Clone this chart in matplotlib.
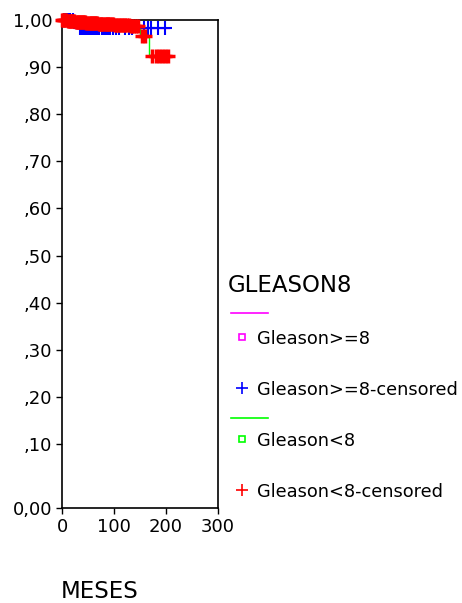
import numpy as np
import matplotlib
matplotlib.use("Agg")
import matplotlib.pyplot as plt
from matplotlib.lines import Line2D

plt.rcParams['font.family'] = ['DejaVu Sans']

# Kaplan-Meier step data (time in months, cumulative survival)
hi_event_t = [0, 27, 205]
hi_event_s = [1.0, 0.982, 0.982]
hi_cens_t = [3, 8, 12, 16, 22, 34, 38, 41, 44, 47, 50, 53, 56, 60, 64, 68, 72,
             76, 80, 84, 88, 93, 98, 104, 110, 122, 128, 134, 158, 165, 172,
             184, 199]

lo_event_t = [0, 10, 25, 45, 70, 100, 130, 150, 168, 205]
lo_event_s = [1.0, 0.998, 0.996, 0.994, 0.992, 0.990, 0.988, 0.965, 0.924, 0.924]
lo_cens_t = [0, 2, 4, 6, 8, 11, 13, 15, 17, 19, 21, 23, 26, 28, 30, 32, 34, 36,
             38, 40, 42, 44, 47, 49, 51, 53, 55, 57, 60, 62, 64, 66, 68, 71, 73,
             75, 77, 79, 82, 84, 86, 88, 91, 93, 96, 98, 101, 104, 107, 110,
             113, 116, 119, 122, 125, 128, 132, 135, 138, 142, 146, 153, 160,
             173, 180, 187, 193, 199, 204]

y_ticks = [0.1, 0.2, 0.3, 0.4, 0.5, 0.6, 0.7, 0.8, 0.9, 1.0]
y_labels = [',10', ',20', ',30', ',40', ',50', ',60', ',70', ',80', ',90', '1,00']
x_ticks = [0, 100, 200, 300]

W, H = 462, 603
fig = plt.figure(figsize=(W / 100, H / 100), dpi=100)
ax = fig.add_axes([62 / W, 1 - 508 / H, 156 / W, 488 / H])

ymin = -0.036


def level(ts, ss, t):
    i = np.searchsorted(ts, t, side='right') - 1
    return np.asarray(ss)[i]


# survival curves
ax.step(hi_event_t, hi_event_s, where='post', color='#ff00ff', lw=1, zorder=2)
ax.step(lo_event_t, lo_event_s, where='post', color='#00ff00', lw=1, zorder=2)

# censored observations
ax.plot(hi_cens_t, level(hi_event_t, hi_event_s, np.array(hi_cens_t)), ls='none',
        marker='+', ms=10, mew=1.5, color='#0000ff', zorder=3, clip_on=False)
ax.plot(lo_cens_t, level(lo_event_t, lo_event_s, np.array(lo_cens_t)), ls='none',
        marker='+', ms=10, mew=2.5, color='#ff0000', zorder=4, clip_on=False)

ax.set_xlim(0, 300)
ax.set_ylim(ymin, 1.0)
ax.set_xticks(x_ticks)
ax.set_xticklabels([str(v) for v in x_ticks])
ax.set_yticks([ymin] + y_ticks)
ax.set_yticklabels(['0,00'] + y_labels)
ax.tick_params(axis='both', direction='out', length=4, width=1, labelsize=13,
               colors='black', pad=3)
for sp in ax.spines.values():
    sp.set_linewidth(1.2)
    sp.set_color('black')

fig.text(61 / W, 1 - 591 / H, 'MESES', fontsize=16.5, ha='left', va='center')


# legend drawn in pixel coordinates
def fx(x):
    return x / W


def fy(y):
    return 1 - y / H


fig.text(fx(228), fy(285), 'GLEASON8', fontsize=16.5, ha='left', va='center')
entries = [
    ('line', '#ff00ff', 313, None),
    ('s', '#ff00ff', 339, 'Gleason>=8'),
    ('+', '#0000ff', 390, 'Gleason>=8-censored'),
    ('line', '#00ff00', 418, None),
    ('s', '#00ff00', 441, 'Gleason<8'),
    ('+', '#ff0000', 492, 'Gleason<8-censored'),
]
for kind, col, y, label in entries:
    if kind == 'line':
        fig.add_artist(Line2D([fx(231), fx(268)], [fy(y), fy(y)], color=col, lw=1.2))
    elif kind == 's':
        fig.add_artist(Line2D([fx(242)], [fy(y - 2)], marker='s', ms=5, mfc='none',
                              mec=col, mew=1.2, ls='none'))
    else:
        fig.add_artist(Line2D([fx(242)], [fy(y - 2)], marker='+', ms=9, mew=1.2,
                              color=col, ls='none'))
    if label:
        fig.text(fx(257), fy(y), label, fontsize=12.8, ha='left', va='center')

fig.savefig('out.png', dpi=100)
